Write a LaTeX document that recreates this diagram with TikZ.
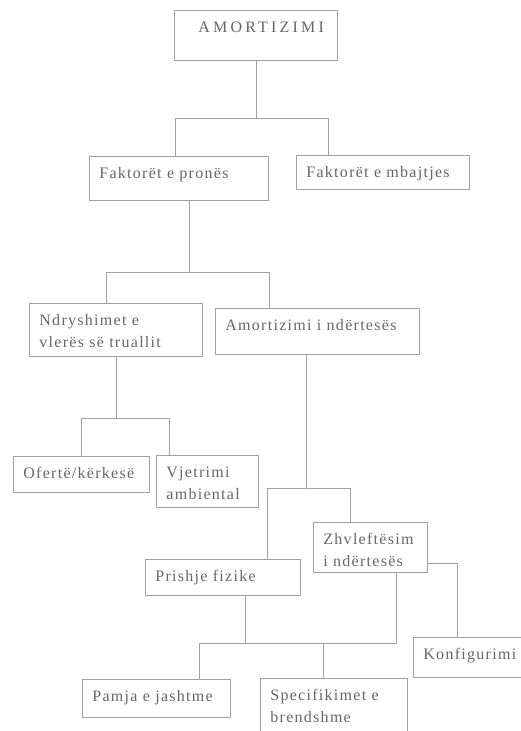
\documentclass[tikz,border=0pt]{standalone}
\usepackage{fontspec}
\setmainfont{Liberation Serif}[LetterSpace=8]
\definecolor{inkgray}{HTML}{666666}
\definecolor{rulegray}{HTML}{A0A0A0}
\begin{document}
\begin{tikzpicture}[x=1pt, y=-1pt, line join=round, line cap=round,
 box/.style={draw=rulegray, line width=0.8pt, anchor=north west, inner xsep=10pt, inner ysep=8pt,
  text height=14pt, align=left, text=inkgray, font=\fontsize{16}{22}\selectfont},
 link/.style={draw=rulegray, line width=0.8pt}]
 \useasboundingbox (0,0) rectangle (521,731);
 \clip (0,0) rectangle (521,731);
 % boxes, placed by their upper left corner
 \node[box, text width=143pt, text depth=20pt] (amort) at (174,10) {\hspace*{14pt}\addfontfeature{LetterSpace=20}AMORTIZIMI};
 \node[box, text width=159pt, text depth=14pt] (fpron) at (89,156) {Faktorët e pronës};
 \node[box, text width=153pt, text depth=4pt] (fmbaj) at (296,155) {Faktorët e mbajtjes};
 \node[box, text width=153pt, text depth=23pt] (ndry) at (29,303) {Ndryshimet e\\vlerës së truallit};
 \node[box, text width=184pt, text depth=16pt] (amnd) at (215,308) {Amortizimi i ndërtesës};
 \node[box, text width=116pt, text depth=6pt] (ofer) at (13,456) {Ofertë/kërkesë};
 \node[box, text width=82pt, text depth=22pt] (vjet) at (156,455) {Vjetrimi\\ambiental};
 \node[box, text width=94pt, text depth=20pt] (zhvl) at (313,522) {Zhvleftësim\\i ndërtesës};
 \node[box, text width=135pt, text depth=6pt] (prish) at (145,559) {Prishje fizike};
 \node[box, text width=110pt, text depth=10pt] (konf) at (413,637) {Konfigurimi};
 \node[box, text width=128pt, text depth=8pt] (pamja) at (82,679) {Pamja e jashtme};
 \node[box, text width=127pt, text depth=28pt] (spec) at (260,678) {Specifikimet e\\brendshme};
 % connectors
 \draw[link] (amort.south) -- ++(0,58) coordinate (b1);
 \draw[link] (b1) -| ([xshift=86pt]fpron.north west);
 \draw[link] (b1) -| ([xshift=32pt]fmbaj.north west);
 \draw[link] ([xshift=100pt]fpron.south west) -- ++(0,72) coordinate (b2);
 \draw[link] (b2) -| ([xshift=77pt]ndry.north west);
 \draw[link] (b2) -| ([xshift=54pt]amnd.north west);
 \draw[link] (ndry.south) -- ++(0,62) coordinate (b3);
 \draw[link] (b3) -| (ofer.north);
 \draw[link] (b3) -| ([xshift=13pt]vjet.north west);
 \draw[link] ([xshift=91pt]amnd.south west) -- ++(0,134) coordinate (b4);
 \draw[link] (b4) -| ([xshift=122pt]prish.north west);
 \draw[link] (b4) -| ([xshift=37pt]zhvl.north west);
 \draw[link] ([xshift=100pt]prish.south west) -- ++(0,48) coordinate (b5);
 \draw[link] ([xshift=83pt]zhvl.south west) |- (b5);
 \draw[link] (b5) -| ([xshift=117pt]pamja.north west);
 \draw[link] (b5) -| ([xshift=63pt]spec.north west);
 \draw[link] ([yshift=9pt]zhvl.south east) -| ([xshift=44pt]konf.north west);
\end{tikzpicture}
\end{document}
